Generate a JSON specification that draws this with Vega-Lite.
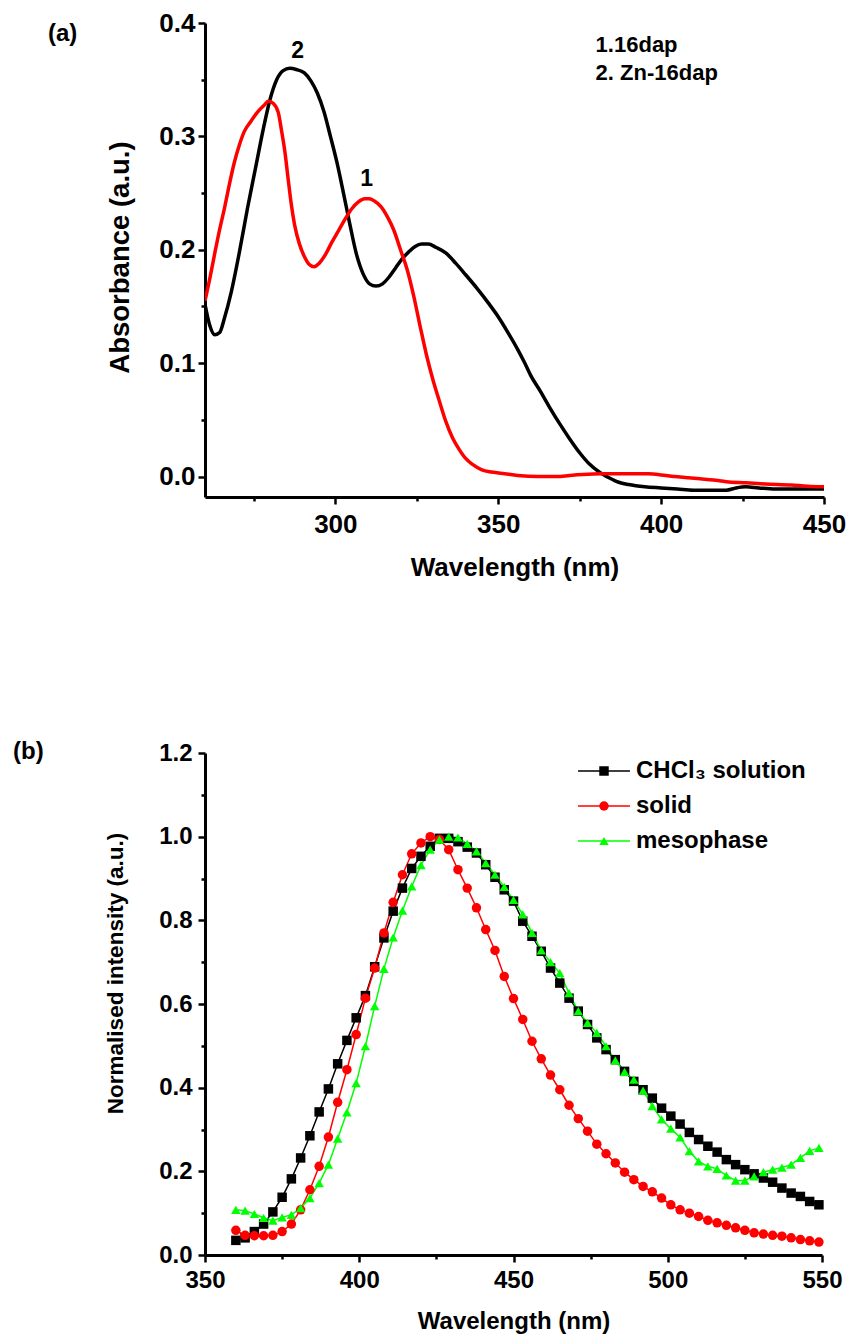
{
  "$schema": "https://vega.github.io/schema/vega-lite/v6.json",
  "padding": {"left": 13, "top": 10, "right": 0, "bottom": 5},
  "background": "white",
  "config": {
    "font": "Liberation Sans",
    "view": {"stroke": null},
    "axis": {
      "domainColor": "black", "domainWidth": 3, "tickColor": "black", "tickWidth": 2.5,
      "labelFont": "Liberation Sans", "labelFontWeight": "bold", "labelColor": "black",
      "titleFont": "Liberation Sans", "titleFontWeight": "bold", "titleColor": "black",
      "grid": false, "labelFlush": false, "labelOverlap": false
    }
  },
  "columns": 1,
  "align": {"row": "none", "column": "each"},
  "spacing": 160,
  "resolve": {
    "scale": {"color": "independent", "stroke": "independent", "shape": "independent"},
    "legend": {"color": "independent", "stroke": "independent", "shape": "independent"}
  },
  "concat": [
    {
      "width": 619,
      "height": 474,
      "title": {"text": "(a)", "anchor": "start", "frame": "group", "dx": -157, "dy": 40, "fontSize": 24, "fontWeight": "bold", "font": "Liberation Sans", "color": "black"},
      "layer": [
        {
          "data": {"values": [
            {"s":"Zn-16dap","w":260,"a":0.152},{"s":"Zn-16dap","w":261.5,"a":0.133},{"s":"Zn-16dap","w":263,"a":0.125},{"s":"Zn-16dap","w":264.5,"a":0.127},{"s":"Zn-16dap","w":266,"a":0.140},{"s":"Zn-16dap","w":268,"a":0.162},{"s":"Zn-16dap","w":270.5,"a":0.197},{"s":"Zn-16dap","w":273,"a":0.236},{"s":"Zn-16dap","w":275.5,"a":0.272},{"s":"Zn-16dap","w":278,"a":0.308},{"s":"Zn-16dap","w":280,"a":0.333},{"s":"Zn-16dap","w":282,"a":0.350},{"s":"Zn-16dap","w":284,"a":0.358},{"s":"Zn-16dap","w":286,"a":0.360},{"s":"Zn-16dap","w":288,"a":0.359},{"s":"Zn-16dap","w":290.5,"a":0.356},{"s":"Zn-16dap","w":292.5,"a":0.349},{"s":"Zn-16dap","w":294.5,"a":0.338},{"s":"Zn-16dap","w":296.5,"a":0.322},{"s":"Zn-16dap","w":298.5,"a":0.300},{"s":"Zn-16dap","w":300.5,"a":0.277},{"s":"Zn-16dap","w":302.5,"a":0.250},{"s":"Zn-16dap","w":304.5,"a":0.222},{"s":"Zn-16dap","w":306.5,"a":0.196},{"s":"Zn-16dap","w":308.5,"a":0.179},{"s":"Zn-16dap","w":310.5,"a":0.170},{"s":"Zn-16dap","w":312.5,"a":0.168},{"s":"Zn-16dap","w":314.5,"a":0.170},{"s":"Zn-16dap","w":316.5,"a":0.176},{"s":"Zn-16dap","w":318.5,"a":0.184},{"s":"Zn-16dap","w":320.5,"a":0.192},{"s":"Zn-16dap","w":322.5,"a":0.198},{"s":"Zn-16dap","w":324.5,"a":0.203},{"s":"Zn-16dap","w":326.5,"a":0.205},{"s":"Zn-16dap","w":328.5,"a":0.205},{"s":"Zn-16dap","w":331,"a":0.202},{"s":"Zn-16dap","w":334,"a":0.197},{"s":"Zn-16dap","w":337,"a":0.188},{"s":"Zn-16dap","w":340,"a":0.178},{"s":"Zn-16dap","w":343.5,"a":0.166},{"s":"Zn-16dap","w":347,"a":0.153},{"s":"Zn-16dap","w":350,"a":0.141},{"s":"Zn-16dap","w":353,"a":0.127},{"s":"Zn-16dap","w":356,"a":0.112},{"s":"Zn-16dap","w":358,"a":0.101},{"s":"Zn-16dap","w":360,"a":0.089},{"s":"Zn-16dap","w":363,"a":0.075},{"s":"Zn-16dap","w":366,"a":0.060},{"s":"Zn-16dap","w":369,"a":0.046},{"s":"Zn-16dap","w":372,"a":0.033},{"s":"Zn-16dap","w":375,"a":0.021},{"s":"Zn-16dap","w":378,"a":0.011},{"s":"Zn-16dap","w":381,"a":0.004},{"s":"Zn-16dap","w":384,"a":-0.001},{"s":"Zn-16dap","w":387,"a":-0.005},{"s":"Zn-16dap","w":390,"a":-0.007},{"s":"Zn-16dap","w":395,"a":-0.009},{"s":"Zn-16dap","w":400,"a":-0.010},{"s":"Zn-16dap","w":405,"a":-0.011},{"s":"Zn-16dap","w":410,"a":-0.012},{"s":"Zn-16dap","w":415,"a":-0.012},{"s":"Zn-16dap","w":420,"a":-0.012},{"s":"Zn-16dap","w":423,"a":-0.010},{"s":"Zn-16dap","w":426,"a":-0.009},{"s":"Zn-16dap","w":430,"a":-0.010},{"s":"Zn-16dap","w":435,"a":-0.011},{"s":"Zn-16dap","w":440,"a":-0.011},{"s":"Zn-16dap","w":445,"a":-0.011},{"s":"Zn-16dap","w":450,"a":-0.011},
            {"s":"16dap","w":260,"a":0.155},{"s":"16dap","w":261.5,"a":0.175},{"s":"16dap","w":263,"a":0.197},{"s":"16dap","w":264.5,"a":0.218},{"s":"16dap","w":266,"a":0.237},{"s":"16dap","w":267.5,"a":0.258},{"s":"16dap","w":269,"a":0.277},{"s":"16dap","w":270.5,"a":0.292},{"s":"16dap","w":272,"a":0.304},{"s":"16dap","w":274,"a":0.313},{"s":"16dap","w":276,"a":0.321},{"s":"16dap","w":278,"a":0.327},{"s":"16dap","w":279.5,"a":0.331},{"s":"16dap","w":281,"a":0.329},{"s":"16dap","w":282.5,"a":0.321},{"s":"16dap","w":283.5,"a":0.305},{"s":"16dap","w":284.5,"a":0.287},{"s":"16dap","w":285.5,"a":0.263},{"s":"16dap","w":286.5,"a":0.240},{"s":"16dap","w":287.5,"a":0.222},{"s":"16dap","w":289,"a":0.205},{"s":"16dap","w":290.5,"a":0.194},{"s":"16dap","w":292,"a":0.187},{"s":"16dap","w":293.5,"a":0.185},{"s":"16dap","w":295,"a":0.188},{"s":"16dap","w":297,"a":0.196},{"s":"16dap","w":299,"a":0.207},{"s":"16dap","w":301,"a":0.217},{"s":"16dap","w":303,"a":0.227},{"s":"16dap","w":305,"a":0.236},{"s":"16dap","w":307,"a":0.242},{"s":"16dap","w":309,"a":0.245},{"s":"16dap","w":310.5,"a":0.245},{"s":"16dap","w":312,"a":0.243},{"s":"16dap","w":314,"a":0.238},{"s":"16dap","w":316,"a":0.229},{"s":"16dap","w":318,"a":0.217},{"s":"16dap","w":320,"a":0.200},{"s":"16dap","w":322,"a":0.183},{"s":"16dap","w":324,"a":0.160},{"s":"16dap","w":326,"a":0.133},{"s":"16dap","w":328,"a":0.107},{"s":"16dap","w":330,"a":0.085},{"s":"16dap","w":332,"a":0.066},{"s":"16dap","w":334,"a":0.048},{"s":"16dap","w":336,"a":0.034},{"s":"16dap","w":338,"a":0.024},{"s":"16dap","w":340,"a":0.016},{"s":"16dap","w":342,"a":0.011},{"s":"16dap","w":345,"a":0.006},{"s":"16dap","w":348,"a":0.004},{"s":"16dap","w":352,"a":0.0025},{"s":"16dap","w":356,"a":0.001},{"s":"16dap","w":362,"a":0.0},{"s":"16dap","w":368,"a":0.0},{"s":"16dap","w":372,"a":0.001},{"s":"16dap","w":376,"a":0.0018},{"s":"16dap","w":382,"a":0.0024},{"s":"16dap","w":390,"a":0.0025},{"s":"16dap","w":396,"a":0.0024},{"s":"16dap","w":400,"a":0.0015},{"s":"16dap","w":404,"a":0.0},{"s":"16dap","w":408,"a":-0.001},{"s":"16dap","w":412,"a":-0.002},{"s":"16dap","w":416,"a":-0.003},{"s":"16dap","w":420,"a":-0.0045},{"s":"16dap","w":426,"a":-0.0055},{"s":"16dap","w":432,"a":-0.0065},{"s":"16dap","w":440,"a":-0.0075},{"s":"16dap","w":445,"a":-0.0085},{"s":"16dap","w":450,"a":-0.009}
          ]},
          "mark": {"type": "line", "strokeWidth": 3.5, "interpolate": "monotone", "clip": true},
          "encoding": {
            "x": {"field": "w", "type": "quantitative",
              "scale": {"domain": [260, 450], "nice": false, "zero": false},
              "axis": {"values": [275,300,325,350,375,400,425,450], "format": "d",
                "labelExpr": "datum.value % 50 === 0 ? datum.label : ''",
                "tickSize": {"condition": {"test": "datum.value % 50 === 0", "value": 7}, "value": 4},
                "labelFontSize": 26, "labelPadding": 7, "title": "Wavelength (nm)", "titleFontSize": 26, "titlePadding": 17}},
            "y": {"field": "a", "type": "quantitative",
              "scale": {"domain": [-0.018, 0.4], "nice": false, "zero": false},
              "axis": {"values": [0,0.05,0.1,0.15,0.2,0.25,0.3,0.35,0.4], "format": ".1f",
                "labelExpr": "round(datum.value*100) % 10 === 0 ? datum.label : ''",
                "tickSize": {"condition": {"test": "round(datum.value*100) % 10 === 0", "value": 7}, "value": 4},
                "labelFontSize": 26, "labelPadding": 3, "title": "Absorbance (a.u.)", "titleFontSize": 27.5, "titlePadding": 24, "titleY": 234}},
            "color": {"field": "s", "type": "nominal", "scale": {"domain": ["Zn-16dap", "16dap"], "range": ["#000000", "#ff0000"]}, "legend": null}
          }
        },
        {
          "data": {"values": [
            {"w": 288.4, "a": 0.375, "t": "2"},
            {"w": 309.6, "a": 0.262, "t": "1"}
          ]},
          "mark": {"type": "text", "fontSize": 23, "fontWeight": "bold", "font": "Liberation Sans", "align": "center", "baseline": "middle", "color": "black"},
          "encoding": {
            "x": {"field": "w", "type": "quantitative"},
            "y": {"field": "a", "type": "quantitative"},
            "text": {"field": "t"}
          }
        },
        {
          "data": {"values": [
            {"w": 379.9, "a": 0.3806, "t": "1.16dap"},
            {"w": 379.9, "a": 0.356, "t": "2. Zn-16dap"}
          ]},
          "mark": {"type": "text", "fontSize": 22, "fontWeight": "bold", "font": "Liberation Sans", "align": "left", "baseline": "middle", "color": "black"},
          "encoding": {
            "x": {"field": "w", "type": "quantitative"},
            "y": {"field": "a", "type": "quantitative"},
            "text": {"field": "t"}
          }
        }
      ]
    },
    {
      "width": 617,
      "height": 502,
      "title": {"text": "(b)", "anchor": "start", "frame": "group", "dx": -192, "dy": 27, "fontSize": 24, "fontWeight": "bold", "font": "Liberation Sans", "color": "black"},
      "data": {"values": [
        {"s":"CHCl₃ solution","w":360,"i":0.035},{"s":"CHCl₃ solution","w":363,"i":0.041},{"s":"CHCl₃ solution","w":366,"i":0.056},{"s":"CHCl₃ solution","w":369,"i":0.074},{"s":"CHCl₃ solution","w":372,"i":0.103},{"s":"CHCl₃ solution","w":375,"i":0.138},{"s":"CHCl₃ solution","w":378,"i":0.182},{"s":"CHCl₃ solution","w":381,"i":0.232},{"s":"CHCl₃ solution","w":384,"i":0.285},{"s":"CHCl₃ solution","w":387,"i":0.342},{"s":"CHCl₃ solution","w":390,"i":0.397},{"s":"CHCl₃ solution","w":393,"i":0.457},{"s":"CHCl₃ solution","w":396,"i":0.513},{"s":"CHCl₃ solution","w":399,"i":0.567},{"s":"CHCl₃ solution","w":402,"i":0.620},{"s":"CHCl₃ solution","w":405,"i":0.689},{"s":"CHCl₃ solution","w":408,"i":0.758},{"s":"CHCl₃ solution","w":411,"i":0.822},{"s":"CHCl₃ solution","w":414,"i":0.877},{"s":"CHCl₃ solution","w":417,"i":0.924},{"s":"CHCl₃ solution","w":420,"i":0.953},{"s":"CHCl₃ solution","w":423,"i":0.977},{"s":"CHCl₃ solution","w":426,"i":0.996},{"s":"CHCl₃ solution","w":429,"i":0.996},{"s":"CHCl₃ solution","w":432,"i":0.988},{"s":"CHCl₃ solution","w":435,"i":0.975},{"s":"CHCl₃ solution","w":438,"i":0.961},{"s":"CHCl₃ solution","w":441,"i":0.933},{"s":"CHCl₃ solution","w":444,"i":0.903},{"s":"CHCl₃ solution","w":447,"i":0.873},{"s":"CHCl₃ solution","w":450,"i":0.846},{"s":"CHCl₃ solution","w":453,"i":0.798},{"s":"CHCl₃ solution","w":456,"i":0.762},{"s":"CHCl₃ solution","w":459,"i":0.726},{"s":"CHCl₃ solution","w":462,"i":0.686},{"s":"CHCl₃ solution","w":465,"i":0.650},{"s":"CHCl₃ solution","w":468,"i":0.614},{"s":"CHCl₃ solution","w":471,"i":0.583},{"s":"CHCl₃ solution","w":474,"i":0.551},{"s":"CHCl₃ solution","w":477,"i":0.519},{"s":"CHCl₃ solution","w":480,"i":0.491},{"s":"CHCl₃ solution","w":483,"i":0.467},{"s":"CHCl₃ solution","w":486,"i":0.439},{"s":"CHCl₃ solution","w":489,"i":0.415},{"s":"CHCl₃ solution","w":492,"i":0.395},{"s":"CHCl₃ solution","w":495,"i":0.375},{"s":"CHCl₃ solution","w":498,"i":0.351},{"s":"CHCl₃ solution","w":501,"i":0.332},{"s":"CHCl₃ solution","w":504,"i":0.313},{"s":"CHCl₃ solution","w":507,"i":0.293},{"s":"CHCl₃ solution","w":510,"i":0.276},{"s":"CHCl₃ solution","w":513,"i":0.260},{"s":"CHCl₃ solution","w":516,"i":0.246},{"s":"CHCl₃ solution","w":519,"i":0.228},{"s":"CHCl₃ solution","w":522,"i":0.216},{"s":"CHCl₃ solution","w":525,"i":0.204},{"s":"CHCl₃ solution","w":528,"i":0.194},{"s":"CHCl₃ solution","w":531,"i":0.184},{"s":"CHCl₃ solution","w":534,"i":0.174},{"s":"CHCl₃ solution","w":537,"i":0.160},{"s":"CHCl₃ solution","w":540,"i":0.148},{"s":"CHCl₃ solution","w":543,"i":0.140},{"s":"CHCl₃ solution","w":546,"i":0.128},{"s":"CHCl₃ solution","w":549,"i":0.120},
        {"s":"solid","w":360,"i":0.059},{"s":"solid","w":363,"i":0.047},{"s":"solid","w":366,"i":0.046},{"s":"solid","w":369,"i":0.046},{"s":"solid","w":372,"i":0.047},{"s":"solid","w":375,"i":0.056},{"s":"solid","w":378,"i":0.074},{"s":"solid","w":381,"i":0.108},{"s":"solid","w":384,"i":0.156},{"s":"solid","w":387,"i":0.212},{"s":"solid","w":390,"i":0.282},{"s":"solid","w":393,"i":0.365},{"s":"solid","w":396,"i":0.443},{"s":"solid","w":399,"i":0.527},{"s":"solid","w":402,"i":0.614},{"s":"solid","w":405,"i":0.686},{"s":"solid","w":408,"i":0.770},{"s":"solid","w":411,"i":0.843},{"s":"solid","w":414,"i":0.909},{"s":"solid","w":417,"i":0.959},{"s":"solid","w":420,"i":0.985},{"s":"solid","w":423,"i":1.0},{"s":"solid","w":426,"i":0.993},{"s":"solid","w":429,"i":0.969},{"s":"solid","w":432,"i":0.921},{"s":"solid","w":435,"i":0.877},{"s":"solid","w":438,"i":0.830},{"s":"solid","w":441,"i":0.778},{"s":"solid","w":444,"i":0.728},{"s":"solid","w":447,"i":0.666},{"s":"solid","w":450,"i":0.613},{"s":"solid","w":453,"i":0.563},{"s":"solid","w":456,"i":0.511},{"s":"solid","w":459,"i":0.469},{"s":"solid","w":462,"i":0.430},{"s":"solid","w":465,"i":0.395},{"s":"solid","w":468,"i":0.358},{"s":"solid","w":471,"i":0.326},{"s":"solid","w":474,"i":0.296},{"s":"solid","w":477,"i":0.265},{"s":"solid","w":480,"i":0.242},{"s":"solid","w":483,"i":0.220},{"s":"solid","w":486,"i":0.198},{"s":"solid","w":489,"i":0.180},{"s":"solid","w":492,"i":0.164},{"s":"solid","w":495,"i":0.151},{"s":"solid","w":498,"i":0.136},{"s":"solid","w":501,"i":0.120},{"s":"solid","w":504,"i":0.108},{"s":"solid","w":507,"i":0.100},{"s":"solid","w":510,"i":0.092},{"s":"solid","w":513,"i":0.083},{"s":"solid","w":516,"i":0.077},{"s":"solid","w":519,"i":0.071},{"s":"solid","w":522,"i":0.065},{"s":"solid","w":525,"i":0.059},{"s":"solid","w":528,"i":0.053},{"s":"solid","w":531,"i":0.050},{"s":"solid","w":534,"i":0.047},{"s":"solid","w":537,"i":0.045},{"s":"solid","w":540,"i":0.041},{"s":"solid","w":543,"i":0.037},{"s":"solid","w":546,"i":0.034},{"s":"solid","w":549,"i":0.031},
        {"s":"mesophase","w":360,"i":0.108},{"s":"mesophase","w":363,"i":0.106},{"s":"mesophase","w":366,"i":0.098},{"s":"mesophase","w":369,"i":0.089},{"s":"mesophase","w":372,"i":0.082},{"s":"mesophase","w":375,"i":0.090},{"s":"mesophase","w":378,"i":0.096},{"s":"mesophase","w":381,"i":0.112},{"s":"mesophase","w":384,"i":0.136},{"s":"mesophase","w":387,"i":0.172},{"s":"mesophase","w":390,"i":0.216},{"s":"mesophase","w":393,"i":0.278},{"s":"mesophase","w":396,"i":0.341},{"s":"mesophase","w":399,"i":0.411},{"s":"mesophase","w":402,"i":0.499},{"s":"mesophase","w":405,"i":0.595},{"s":"mesophase","w":408,"i":0.684},{"s":"mesophase","w":411,"i":0.759},{"s":"mesophase","w":414,"i":0.823},{"s":"mesophase","w":417,"i":0.881},{"s":"mesophase","w":420,"i":0.932},{"s":"mesophase","w":423,"i":0.969},{"s":"mesophase","w":426,"i":0.993},{"s":"mesophase","w":429,"i":1.0},{"s":"mesophase","w":432,"i":0.998},{"s":"mesophase","w":435,"i":0.983},{"s":"mesophase","w":438,"i":0.965},{"s":"mesophase","w":441,"i":0.937},{"s":"mesophase","w":444,"i":0.909},{"s":"mesophase","w":447,"i":0.880},{"s":"mesophase","w":450,"i":0.849},{"s":"mesophase","w":453,"i":0.814},{"s":"mesophase","w":456,"i":0.770},{"s":"mesophase","w":459,"i":0.728},{"s":"mesophase","w":462,"i":0.700},{"s":"mesophase","w":465,"i":0.674},{"s":"mesophase","w":468,"i":0.626},{"s":"mesophase","w":471,"i":0.583},{"s":"mesophase","w":474,"i":0.555},{"s":"mesophase","w":477,"i":0.531},{"s":"mesophase","w":480,"i":0.499},{"s":"mesophase","w":483,"i":0.465},{"s":"mesophase","w":486,"i":0.438},{"s":"mesophase","w":489,"i":0.419},{"s":"mesophase","w":492,"i":0.393},{"s":"mesophase","w":495,"i":0.356},{"s":"mesophase","w":498,"i":0.324},{"s":"mesophase","w":501,"i":0.302},{"s":"mesophase","w":504,"i":0.281},{"s":"mesophase","w":507,"i":0.248},{"s":"mesophase","w":510,"i":0.224},{"s":"mesophase","w":513,"i":0.212},{"s":"mesophase","w":516,"i":0.206},{"s":"mesophase","w":519,"i":0.190},{"s":"mesophase","w":522,"i":0.178},{"s":"mesophase","w":525,"i":0.178},{"s":"mesophase","w":528,"i":0.188},{"s":"mesophase","w":531,"i":0.198},{"s":"mesophase","w":534,"i":0.204},{"s":"mesophase","w":537,"i":0.209},{"s":"mesophase","w":540,"i":0.216},{"s":"mesophase","w":543,"i":0.232},{"s":"mesophase","w":546,"i":0.249},{"s":"mesophase","w":549,"i":0.256}
      ]},
      "encoding": {
        "x": {"field": "w", "type": "quantitative",
          "scale": {"domain": [350, 550], "nice": false, "zero": false},
          "axis": {"values": [350,375,400,425,450,475,500,525,550], "format": "d",
            "labelExpr": "datum.value % 50 === 0 ? datum.label : ''",
            "tickSize": {"condition": {"test": "datum.value % 50 === 0", "value": 7}, "value": 4},
            "labelFontSize": 24, "labelPadding": 6, "title": "Wavelength (nm)", "titleFontSize": 24, "titlePadding": 17}},
        "y": {"field": "i", "type": "quantitative",
          "scale": {"domain": [0, 1.2], "nice": false, "zero": false},
          "axis": {"values": [0,0.1,0.2,0.3,0.4,0.5,0.6,0.7,0.8,0.9,1.0,1.1,1.2], "format": ".1f",
            "labelExpr": "round(datum.value*10) % 2 === 0 ? datum.label : ''",
            "tickSize": {"condition": {"test": "round(datum.value*10) % 2 === 0", "value": 7}, "value": 4},
            "labelFontSize": 24, "labelPadding": 6, "title": "Normalised intensity (a.u.)", "titleFontSize": 22.5, "titlePadding": 31, "titleY": 220}}
      },
      "layer": [
        {
          "mark": {"type": "line", "strokeWidth": 1.5},
          "encoding": {
            "stroke": {"field": "s", "type": "nominal", "sort": ["CHCl₃ solution", "solid", "mesophase"],
              "scale": {"range": ["#000000", "#ff0000", "#00ff00"]},
              "legend": {"orient": "none", "legendX": 387, "legendY": 6, "title": null, "padding": 0,
                "symbolType": "M-5,0H5", "symbolSize": 108, "symbolStrokeWidth": 1.5,
                "labelFont": "Liberation Sans", "labelFontSize": 24, "labelFontWeight": "bold", "labelColor": "transparent",
                "labelOffset": 20, "labelLimit": 0, "rowPadding": 11}}
          }
        },
        {
          "mark": {"type": "point", "filled": true, "opacity": 1, "size": 90},
          "encoding": {
            "color": {"field": "s", "type": "nominal",
              "scale": {"domain": ["CHCl₃ solution", "solid", "mesophase"], "range": ["#000000", "#ff0000", "#00ff00"]},
              "legend": {"orient": "none", "legendX": 387, "legendY": 6, "title": null, "padding": 0,
                "symbolSize": 90, "symbolStrokeWidth": 0, "labelFont": "Liberation Sans", "labelFontSize": 24, "labelFontWeight": "bold", "labelColor": "black",
                "labelOffset": 20, "labelLimit": 0, "rowPadding": 11}},
            "shape": {"field": "s", "type": "nominal",
              "scale": {"domain": ["CHCl₃ solution", "solid", "mesophase"], "range": ["square", "circle", "triangle-up"]},
              "legend": {"orient": "none", "legendX": 387, "legendY": 6, "title": null, "padding": 0,
                "symbolSize": 90, "symbolStrokeWidth": 0, "labelFont": "Liberation Sans", "labelFontSize": 24, "labelFontWeight": "bold", "labelColor": "black",
                "labelOffset": 20, "labelLimit": 0, "rowPadding": 11}}
          }
        }
      ]
    }
  ]
}
